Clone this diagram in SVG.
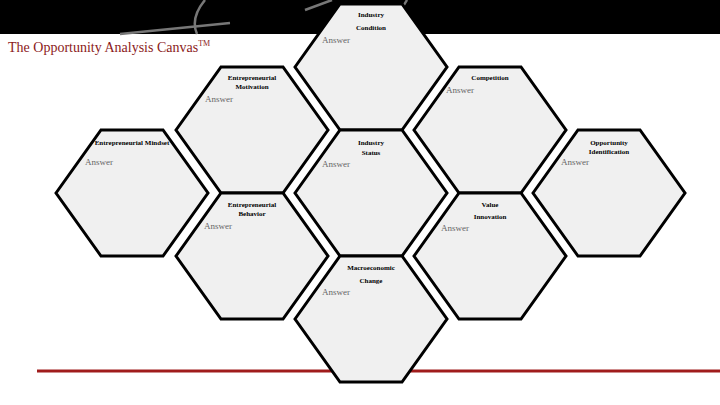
<svg xmlns="http://www.w3.org/2000/svg" width="720" height="405" viewBox="0 0 720 405">
<style>
.hex{fill:#f0f0f0;stroke:#000;stroke-width:3;stroke-linejoin:miter}
.lbl{font-family:"Liberation Serif",serif;font-size:7px;font-weight:bold;fill:#000;text-anchor:middle}
.ans{font-family:"Liberation Serif",serif;font-size:9px;fill:#666}
.deco{fill:none;stroke:#777;stroke-width:2.5}
</style>
<defs>
<polygon id="h" points="-76,0 -31,-63 31,-63 76,0 31,63 -31,63"/>
</defs>
<rect width="720" height="405" fill="#fff"/>
<rect width="720" height="34" fill="#000"/>
<path class="deco" d="M120,34 L230,23"/>
<path class="deco" d="M205,0 Q190,18 197,34"/>
<path class="deco" d="M305,10 L332,0"/>
<path class="deco" d="M407,0 Q395,22 377,34"/>
<text x="8" y="52" font-family="Liberation Serif,serif" font-size="14" fill="#8b1a1a">The Opportunity Analysis Canvas<tspan font-size="8" dy="-6">TM</tspan></text>
<line x1="37" y1="371" x2="720" y2="371" stroke="#a01c1c" stroke-width="3"/>
<g id="connectors"></g>
<g id="industry-condition"><use href="#h" class="hex" x="371" y="67"/><text class="lbl" x="371" y="17">Industry</text><text class="lbl" x="371" y="30">Condition</text><text class="ans" x="322" y="43">Answer</text></g>
<g id="motivation"><use href="#h" class="hex" x="252" y="130"/><text class="lbl" x="252" y="80">Entrepreneurial</text><text class="lbl" x="252" y="89">Motivation</text><text class="ans" x="205" y="102">Answer</text></g>
<g id="competition"><use href="#h" class="hex" x="490" y="130"/><text class="lbl" x="490" y="80">Competition</text><text class="ans" x="446" y="93">Answer</text></g>
<g id="mindset"><use href="#h" class="hex" x="132" y="193"/><text class="lbl" x="132" y="145">Entrepreneurial Mindset</text><text class="ans" x="85" y="165">Answer</text></g>
<g id="industry-status"><use href="#h" class="hex" x="371" y="193"/><text class="lbl" x="371" y="145">Industry</text><text class="lbl" x="371" y="155">Status</text><text class="ans" x="322" y="167">Answer</text></g>
<g id="opportunity"><use href="#h" class="hex" x="609" y="193"/><text class="lbl" x="609" y="145">Opportunity</text><text class="lbl" x="609" y="154">Identification</text><text class="ans" x="561" y="165">Answer</text></g>
<g id="behavior"><use href="#h" class="hex" x="252" y="256"/><text class="lbl" x="252" y="207">Entrepreneurial</text><text class="lbl" x="252" y="216">Behavior</text><text class="ans" x="204" y="229">Answer</text></g>
<g id="value-innovation"><use href="#h" class="hex" x="490" y="256"/><text class="lbl" x="490" y="207">Value</text><text class="lbl" x="490" y="219">Innovation</text><text class="ans" x="441" y="231">Answer</text></g>
<g id="macro"><use href="#h" class="hex" x="371" y="319"/><text class="lbl" x="371" y="270">Macroeconomic</text><text class="lbl" x="371" y="283">Change</text><text class="ans" x="322" y="295">Answer</text></g>
</svg>
